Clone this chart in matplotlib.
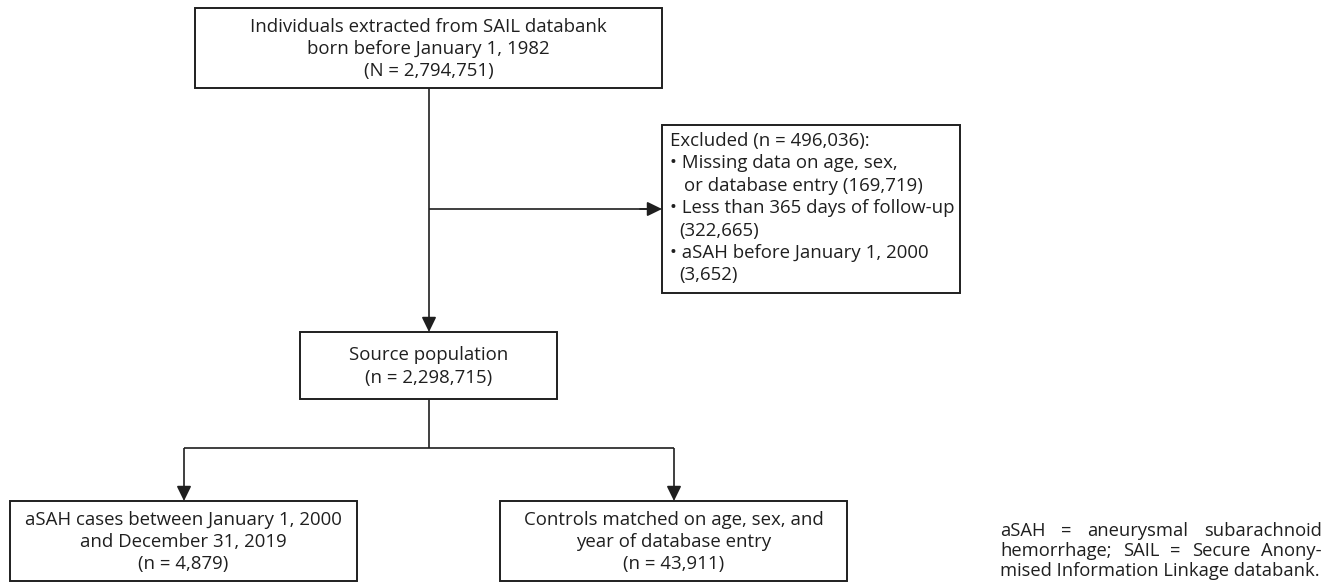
"""Flowchart of the SAIL cohort selection (aSAH case-control study)."""

import matplotlib.pyplot as plt
from matplotlib.patches import Rectangle, FancyArrowPatch

plt.rcParams["font.family"] = ["Open Sans", "DejaVu Sans"]

# Counts shown in the flowchart
total_extracted = 2794751
excluded_total = 496036
excluded_reasons = [
    "Missing data on age, sex,",
    "Less than 365 days of follow-up",
    "aSAH before January 1, 2000",
]
excluded_counts = [169719, 322665, 3652]
source_population = 2298715
group_names = ["aSAH cases", "Controls"]
group_counts = [4879, 43911]

footnote_words = [
    ["aSAH", "=", "aneurysmal", "subarachnoid"],
    ["hemorrhage;", "SAIL", "=", "Secure", "Anony-"],
    ["mised", "Information", "Linkage", "databank."],
]

ink = "#1f1f1f"
box_lw = 1.4
line_lw = 1.2
fs = 13.4


def fmt(n):
    return f"{n:,}"


fig = plt.figure(figsize=(13.38, 5.86), dpi=100)
ax = fig.add_axes([0, 0, 1, 1])
ax.set_xlim(0, 1338)
ax.set_ylim(586, 0)
ax.axis("off")


def box(x0, y0, x1, y1, text=None, fontsize=fs):
    ax.add_patch(Rectangle((x0, y0), x1 - x0, y1 - y0, facecolor="white",
                           edgecolor=ink, linewidth=box_lw, zorder=2))
    if text:
        ax.text((x0 + x1) / 2, (y0 + y1) / 2 + 1, text, ha="center", va="center",
                fontsize=fontsize, color=ink, linespacing=1.3, zorder=3)


def line(xs, ys):
    ax.plot(xs, ys, color=ink, linewidth=line_lw, solid_capstyle="butt", zorder=1)


def arrow(x0, y0, x1, y1):
    ax.add_patch(FancyArrowPatch((x0, y0), (x1, y1),
                                 arrowstyle="-|>,head_length=0.45,head_width=0.22",
                                 mutation_scale=20, color=ink, linewidth=line_lw,
                                 shrinkA=0, shrinkB=0, zorder=3))


# top box
box(195, 8, 662, 88,
    "Individuals extracted from SAIL databank\nborn before January 1, 1982\n"
    f"(N = {fmt(total_extracted)})")

# main stem + exclusion arrow
line([429, 429], [88, 320])
arrow(429, 320, 429, 332)
line([429, 650], [209, 209])
arrow(640, 209, 662, 209)

# exclusion box
box(662, 125, 960, 293)
excl_lines = [
    (670, f"Excluded (n = {fmt(excluded_total)}):"),
    (670, "\u2022 " + excluded_reasons[0]),
    (684, f"or database entry ({fmt(excluded_counts[0])})"),
    (670, "\u2022 " + excluded_reasons[1]),
    (679, f"({fmt(excluded_counts[1])})"),
    (670, "\u2022 " + excluded_reasons[2]),
    (679, f"({fmt(excluded_counts[2])})"),
]
for i, (x, t) in enumerate(excl_lines):
    ax.text(x, 141 + i * 22.4, t, ha="left", va="center", fontsize=fs,
            color=ink, zorder=3)

# source population
box(300, 332, 557, 399,
    f"Source population\n(n = {fmt(source_population)})")

# split to the two groups
line([429, 429], [399, 448])
line([184, 674], [448, 448])
line([184, 184], [448, 490])
line([674, 674], [448, 490])
arrow(184, 488, 184, 501)
arrow(674, 488, 674, 501)

box(10, 501, 357, 581,
    f"{group_names[0]} between January 1, 2000\nand December 31, 2019\n"
    f"(n = {fmt(group_counts[0])})")
box(500, 501, 847, 581,
    f"{group_names[1]} matched on age, sex, and\nyear of database entry\n"
    f"(n = {fmt(group_counts[1])})")

# justified footnote
fx0, fx1 = 1000, 1322
fn_fs = 13.2
fig.canvas.draw()
renderer = fig.canvas.get_renderer()
for i, words in enumerate(footnote_words):
    y = 531 + i * 20
    if i == len(footnote_words) - 1:
        ax.text(fx0, y, " ".join(words), ha="left", va="center",
                fontsize=fn_fs, color=ink)
        continue
    texts = [ax.text(0, y, w, ha="left", va="center", fontsize=fn_fs, color=ink)
             for w in words]
    widths = [t.get_window_extent(renderer).width for t in texts]
    gap = (fx1 - fx0 - sum(widths)) / (len(words) - 1)
    x = fx0
    for t, w in zip(texts, widths):
        t.set_x(x)
        x += w + gap

fig.savefig("out.png", dpi=100, facecolor="white")
